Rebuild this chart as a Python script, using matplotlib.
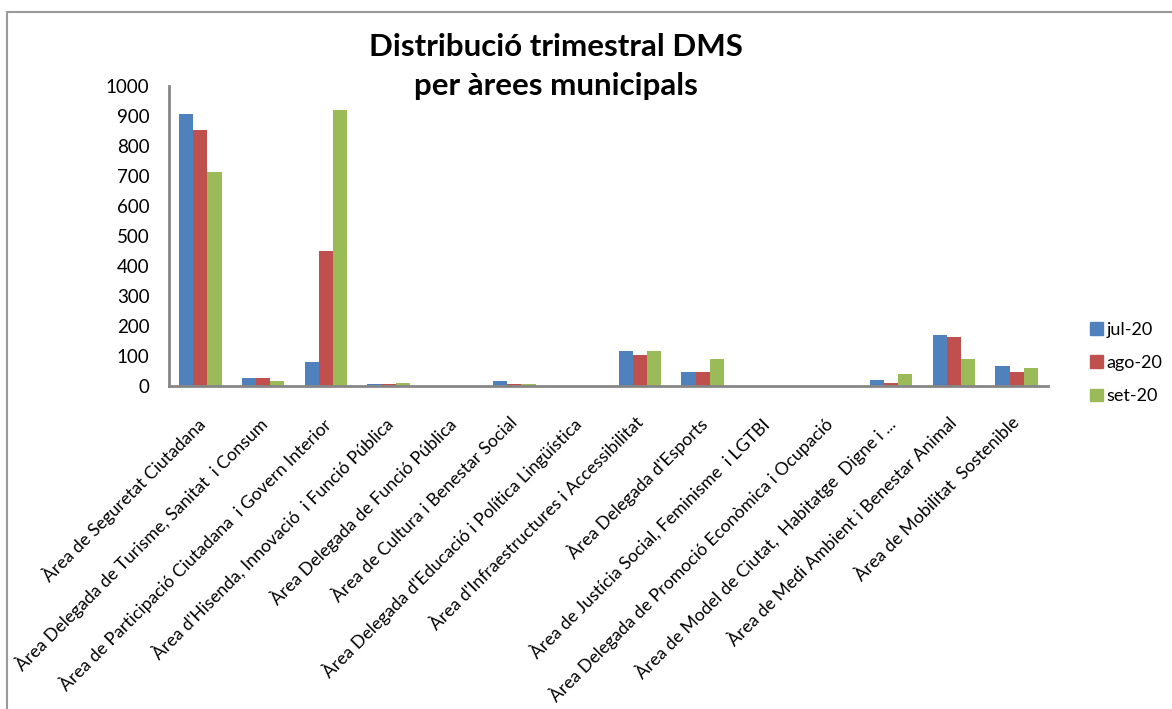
import matplotlib.pyplot as plt
import matplotlib.patches as mpatches
import matplotlib.transforms as mtransforms
import numpy as np

# data
areas = [
    "Àrea de Seguretat Ciutadana",
    "Àrea Delegada de Turisme, Sanitat  i Consum",
    "Àrea de Participació Ciutadana  i Govern Interior",
    "Àrea d'Hisenda, Innovació  i Funció Pública",
    "Àrea Delegada de Funció Pública",
    "Àrea de Cultura i Benestar Social",
    "Àrea Delegada d'Educació i Política Lingüística",
    "Àrea d'Infraestructures i Accessibilitat",
    "Àrea Delegada d'Esports",
    "Àrea de Justícia Social, Feminisme  i LGTBI",
    "Àrea Delegada de Promoció Econòmica i Ocupació",
    "Àrea de Model de Ciutat,  Habitatge  Digne i ...",
    "Àrea de Medi Ambient i Benestar Animal",
    "Àrea de Mobilitat  Sostenible",
]
months = ["jul-20", "ago-20", "set-20"]
jul = [907, 26, 80, 6, 0, 17, 1, 117, 47, 1, 1, 21, 170, 67]
ago = [852, 26, 451, 6, 0, 7, 1, 105, 47, 1, 0, 10, 164, 47]
sep = [713, 16, 921, 10, 0, 7, 1, 117, 90, 1, 1, 41, 90, 60]
colors = ['#4F81BD', '#C0504D', '#9BBB59']

plt.rcParams['font.family'] = ['Lato', 'DejaVu Sans']

fig = plt.figure(figsize=(11.72, 7.09), dpi=100)
ax = fig.add_axes([169/1172, 1-386/709, (1048-169)/1172, 300/709])

x = np.arange(len(areas))
w = 0.226
for i, vals in enumerate([jul, ago, sep]):
    ax.bar(x + (i-1)*w, vals, w, color=colors[i], label=months[i], zorder=2)

ax.set_xlim(-0.5, len(areas)-0.5)
ax.set_ylim(0, 1000)
ax.set_yticks(np.arange(0, 1001, 100))
ax.tick_params(axis='y', length=0, labelsize=13.5, pad=14)
ax.tick_params(axis='x', length=0, pad=12)
ax.set_xticks(x)
ax.set_xticklabels(areas, rotation=45, ha='right', va='top',
                   rotation_mode='anchor', fontsize=12.7)
# push the rotated labels down-left like the original
shift = mtransforms.ScaledTranslation(-0.05, -0.12, fig.dpi_scale_trans)
for lab in ax.get_xticklabels():
    lab.set_transform(lab.get_transform() + shift)
for s in ['top', 'right']:
    ax.spines[s].set_visible(False)
for s in ['left', 'bottom']:
    ax.spines[s].set_color('#868686')
    ax.spines[s].set_linewidth(2)

fig.text(0.474, 1-47/709, "Distribució trimestral DMS", ha='center', va='center',
         fontsize=22.5, fontweight='bold')
fig.text(0.474, 1-86/709, "per àrees municipals", ha='center', va='center',
         fontsize=22.5, fontweight='bold')

# legend
handles = [mpatches.Patch(color=c, label=m) for c, m in zip(colors, months)]
fig.legend(handles=handles, loc='center left', bbox_to_anchor=(1090/1172, 1-363/709),
           frameon=False, fontsize=13, handlelength=0.7, handleheight=0.7,
           handletextpad=0.2, labelspacing=0.95, borderpad=0, borderaxespad=0)

# chart frame
fig.patches.append(mpatches.Rectangle((7/1172, -0.1), 1.2, 1.1 - 12/709,
                                      transform=fig.transFigure, fill=False,
                                      edgecolor='#9a9a9a', linewidth=1.5))

fig.savefig('out.png', dpi=100)
